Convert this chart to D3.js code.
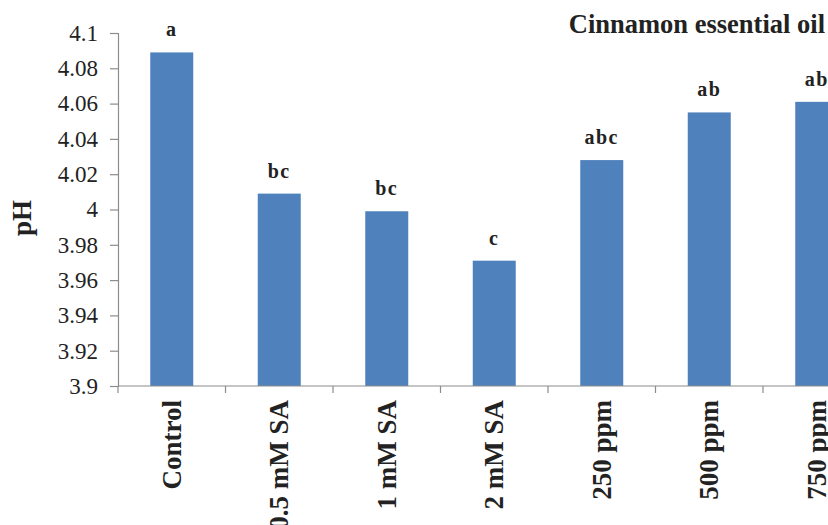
<!DOCTYPE html>
<html>
<head>
<meta charset="utf-8">
<script src="https://cdn.jsdelivr.net/npm/d3@7/dist/d3.min.js"></script>
<style>
  html, body { margin: 0; padding: 0; background: #fff; }
  svg { display: block; }
</style>
</head>
<body>
<svg id="chart" width="828" height="525"></svg>
<script>
// Treatments and mean pH values
const categories = ["Control", "0.5 mM SA", "1 mM SA", "2 mM SA", "250 ppm", "500 ppm", "750 ppm"];
const phValues = [4.089, 4.009, 3.999, 3.971, 4.028, 4.055, 4.061];
const groupLetters = ["a", "bc", "bc", "c", "abc", "ab", "ab"];
const yTickValues = [3.9, 3.92, 3.94, 3.96, 3.98, 4.0, 4.02, 4.04, 4.06, 4.08, 4.1];
const yTickLabels = ["3.9", "3.92", "3.94", "3.96", "3.98", "4", "4.02", "4.04", "4.06", "4.08", "4.1"];
const chartTitle = "Cinnamon essential oil";
const yTitle = "pH";

const serif = "'Liberation Serif', 'DejaVu Serif', 'Times New Roman', Times, serif";
const ink = "#222";

const svg = d3.select("#chart");
const plotLeft = 118, plotTop = 33, plotBottom = 386;
const bandWidth = 107.5;
const plotRight = plotLeft + bandWidth * categories.length;

const x = d3.scaleBand()
  .domain(categories)
  .range([plotLeft, plotRight])
  .paddingInner(0.6)
  .paddingOuter(0.3);

const y = d3.scaleLinear()
  .domain([3.9, 4.1])
  .range([plotBottom, plotTop]);

// Bars
svg.append("g")
  .selectAll("rect")
  .data(categories)
  .join("rect")
  .attr("x", d => x(d))
  .attr("y", (d, i) => y(phValues[i]))
  .attr("width", x.bandwidth())
  .attr("height", (d, i) => plotBottom - y(phValues[i]))
  .attr("fill", "#4f81bd");

// Y axis
const yAxis = svg.append("g")
  .attr("transform", `translate(${plotLeft},0)`)
  .call(d3.axisLeft(y)
    .tickValues(yTickValues)
    .tickFormat((d, i) => yTickLabels[i])
    .tickSize(8)
    .tickPadding(12));
yAxis.attr("font-family", null).attr("font-size", null);
yAxis.select(".domain").attr("stroke", "#8c8c8c").attr("stroke-width", 1.2);
yAxis.selectAll(".tick line").attr("stroke", "#8c8c8c").attr("stroke-width", 1.2);
yAxis.selectAll(".tick text")
  .style("font-family", serif)
  .style("font-size", "23px")
  .attr("fill", ink);

// X axis line with ticks on band boundaries
const xAxisG = svg.append("g");
xAxisG.append("line")
  .attr("x1", plotLeft).attr("x2", plotRight)
  .attr("y1", plotBottom).attr("y2", plotBottom)
  .attr("stroke", "#8c8c8c").attr("stroke-width", 1.2);
xAxisG.selectAll("line.sep")
  .data(d3.range(categories.length + 1))
  .join("line")
  .attr("class", "sep")
  .attr("x1", i => plotLeft + i * x.step())
  .attr("x2", i => plotLeft + i * x.step())
  .attr("y1", plotBottom).attr("y2", plotBottom + 7)
  .attr("stroke", "#8c8c8c").attr("stroke-width", 1.2);

// Category labels, rotated
xAxisG.selectAll("text.cat")
  .data(categories)
  .join("text")
  .attr("class", "cat")
  .attr("transform", d => `translate(${x(d) + x.bandwidth() / 2},400) rotate(-90)`)
  .attr("dy", "0.33em")
  .attr("text-anchor", "end")
  .style("font-family", serif)
  .style("font-size", "27px")
  .style("font-weight", "bold")
  .attr("fill", ink)
  .text(d => d);

// Significance letters above bars
svg.append("g")
  .selectAll("text")
  .data(categories)
  .join("text")
  .attr("x", d => x(d) + x.bandwidth() / 2)
  .attr("y", (d, i) => y(phValues[i]) - 16)
  .attr("text-anchor", "middle")
  .style("font-family", serif)
  .style("font-size", "20px")
  .style("font-weight", "bold")
  .style("letter-spacing", "1.5px")
  .attr("fill", ink)
  .text((d, i) => groupLetters[i]);

// Title
svg.append("text")
  .attr("x", 825)
  .attr("y", 33)
  .attr("text-anchor", "end")
  .style("font-family", serif)
  .style("font-size", "26.5px")
  .style("font-weight", "bold")
  .attr("fill", ink)
  .text(chartTitle);

// Y axis title
svg.append("text")
  .attr("transform", "translate(31,218) rotate(-90)")
  .attr("text-anchor", "middle")
  .style("font-family", serif)
  .style("font-size", "27px")
  .style("font-weight", "bold")
  .attr("fill", ink)
  .text(yTitle);
</script>
</body>
</html>
